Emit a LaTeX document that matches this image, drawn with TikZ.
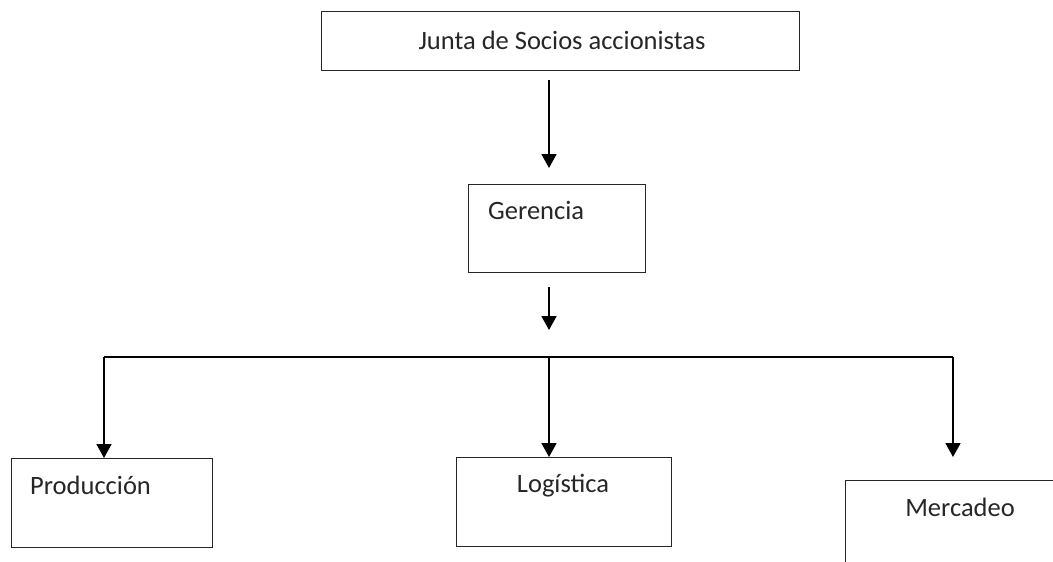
\documentclass[tikz,border=0pt]{standalone}
\usepackage{fontspec}
\setmainfont{Carlito}
\usetikzlibrary{arrows.meta}
\begin{document}
\begin{tikzpicture}
    [
        x=1pt, y=-1pt,
        box/.style={draw=black!85, line width=1.2pt, anchor=north west, inner sep=0pt},
        boxtext/.style={font=\fontsize{26.5}{30}\selectfont, text=black!85, inner sep=0pt},
        wire/.style={line width=1.8pt, draw=black},
        arrow/.style={wire, -{Triangle[length=14pt, width=15pt]}},
    ]
  \useasboundingbox (0,0) rectangle (1053,562);
  \clip (0,0) rectangle (1053,562);

  % Nodes
  \node [box, minimum width=478pt, minimum height=59pt] (J) at (321,11) {};
  \node [box, minimum width=177pt, minimum height=88pt] (G) at (468,184) {};
  \node [box, minimum width=201pt, minimum height=89pt] (P) at (11,458) {};
  \node [box, minimum width=215pt, minimum height=89pt] (L) at (456,457) {};
  \node [box, minimum width=226pt, minimum height=100pt] (M) at (845,480) {};

  \node [boxtext, anchor=base] (Jt) at (562,49) {Junta de Socios accionistas};
  \node [boxtext, anchor=base west] (Gt) at (488,219) {Gerencia};
  \node [boxtext, anchor=base west] (Pt) at (30,494) {Producción};
  \node [boxtext, anchor=base] (Lt) at (563,492) {Logística};
  \node [boxtext, anchor=base] (Mt) at (960,516) {Mercadeo};

  \coordinate (JG1) at (549,80);
  \coordinate (JG2) at (549,168);
  \coordinate (GB1) at (549,287);
  \coordinate (GB2) at (549,330);
  \coordinate (BL) at (104,357);
  \coordinate (BM) at (549,357);
  \coordinate (BR) at (953,357);
  \coordinate (MT) at (953,457);

  % Connections
  \draw [arrow] (JG1) -- (JG2);
  \draw [arrow] (GB1) -- (GB2);
  \draw [wire] (BL) -- (BR);
  \draw [arrow] (BL) -- (BL |- P.north);
  \draw [arrow] (BM) -- (BM |- L.north);
  \draw [arrow] (BR) -- (MT);
\end{tikzpicture}
\end{document}
